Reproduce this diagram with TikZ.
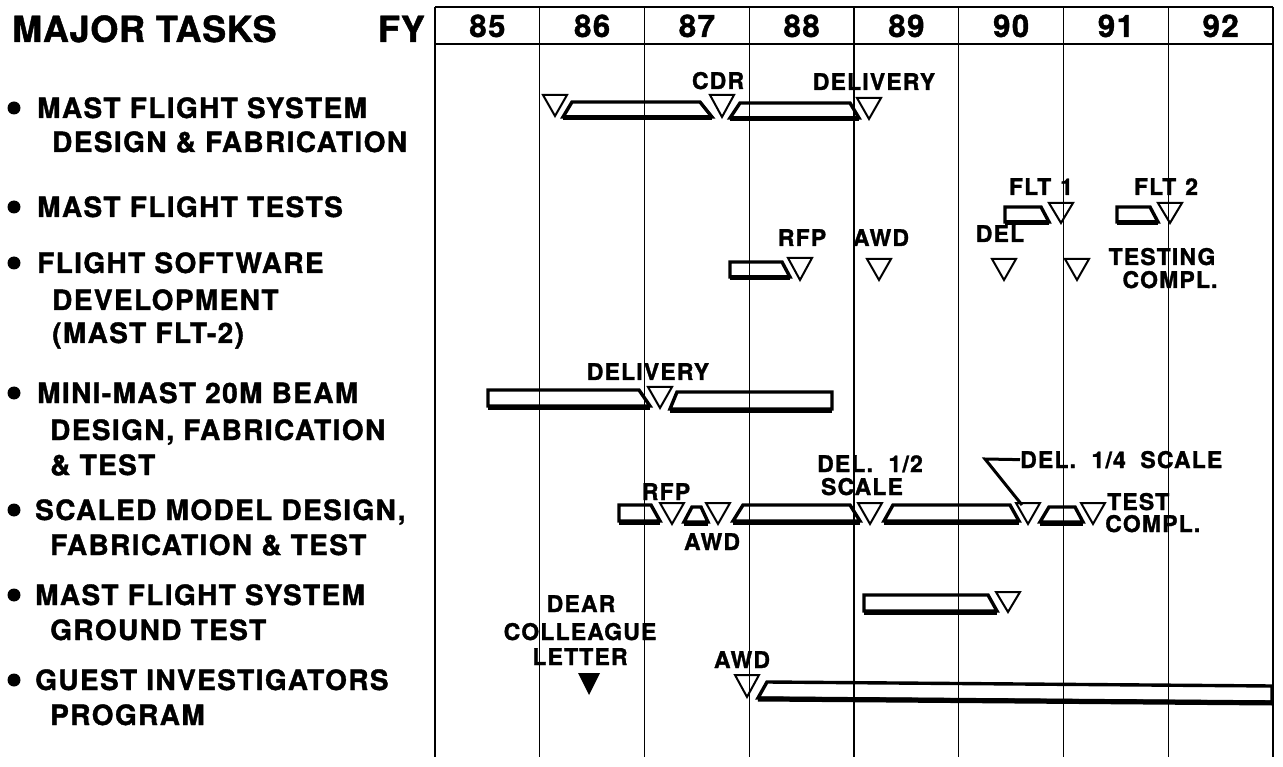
\documentclass[tikz,border=0pt]{standalone}
\usepackage{fontspec}
\setmainfont{TeX Gyre Heros}
\newfontfamily\labfont{TeX Gyre Heros}[LetterSpace=5, BoldFeatures={FakeBold=1.3}]
\newfontfamily\ttlfont{TeX Gyre Heros}[LetterSpace=2, BoldFeatures={FakeBold=1.3}]
\tikzset{
  task/.style={anchor=base west, inner sep=0pt, font=\labfont\bfseries\fontsize{28}{30}\selectfont},
  lbl/.style={anchor=base, inner sep=0pt, font=\labfont\bfseries\fontsize{23}{25}\selectfont},
  yr/.style={anchor=base, inner sep=0pt, font=\labfont\bfseries\fontsize{31}{33}\selectfont},
  ttl/.style={inner sep=0pt, font=\ttlfont\bfseries\fontsize{36}{38}\selectfont},
  gridline/.style={line width=1.2pt},
  frame/.style={line width=2.5pt},
  barstyle/.style={line width=3.4pt, line join=miter},
  barbottom/.style={line width=5pt},
  tristyle/.style={line width=2pt, line join=miter},
  leader/.style={line width=3pt},
}
\newcommand\gbar[6]{%
  \draw[barstyle] (#1,#5) -- (#2,#5) -- (#3,#6) -- (#4,#6) -- cycle;
  \draw[barbottom] (#4,#6+1) -- (#3,#6+1);}
\newcommand\mtri[4]{%
  \draw[tristyle] (#2-12,#3) -- (#2+12,#3) -- (#2,#4) -- cycle;
  \coordinate (#1) at (#2,#3);}
\newcommand\bul[1]{\fill (14,#1) circle (6.5pt);}
\begin{document}
\begin{tikzpicture}[x=1pt,y=-1pt]
\useasboundingbox (0,0) rectangle (1283,767);
% frame and grid
\foreach \i in {1,...,7} \draw[gridline] (435+104.75*\i,7) -- (435+104.75*\i,757);
\draw[frame] (435,7) -- (1273,7);
\draw[frame] (435,44) -- (1273,44);
\draw[frame] (435,7) -- (435,757);
\draw[frame] (1273,7) -- (1273,757);
\foreach \y [count=\i from 0] in {85,...,92} \node[yr] (y\y) at (487.4+104.75*\i,37) {\y};
% titles
\node[ttl, anchor=base west] (mt) at (12,42) {MAJOR TASKS};
\node[ttl, anchor=base east] (fy) at (425,42) {FY};
% task list
\bul{108} \node[task] (a1) at (37,118) {MAST FLIGHT SYSTEM};
\node[task] (a2) at (52,152) {DESIGN \& FABRICATION};
\bul{207} \node[task] (b1) at (37,217) {MAST FLIGHT TESTS};
\bul{263} \node[task] (c1) at (37,273) {FLIGHT SOFTWARE};
\node[task] (c2) at (52,310) {DEVELOPMENT};
\node[task] (c3) at (52,343) {(MAST FLT-2)};
\bul{393} \node[task] (d1) at (37,403) {MINI-MAST 20M BEAM};
\node[task] (d2) at (50,440) {DESIGN, FABRICATION};
\node[task] (d3) at (50,475) {\& TEST};
\bul{510} \node[task] (e1) at (35,520) {SCALED MODEL DESIGN,};
\node[task] (e2) at (50,555) {FABRICATION \& TEST};
\bul{595} \node[task] (f1) at (35,605) {MAST FLIGHT SYSTEM};
\node[task] (f2) at (50,640) {GROUND TEST};
\bul{680} \node[task] (g1) at (35,690) {GUEST INVESTIGATORS};
\node[task] (g2) at (50,725) {PROGRAM};
% row 1
\mtri{r1a}{555}{95}{116}
\gbar{572}{700}{712}{563}{102}{117}
\mtri{r1b}{722}{95}{117}
\gbar{740}{850}{859}{730}{103}{118}
\mtri{r1c}{869}{98}{119}
\node[lbl] (l1a) at (718,89) {CDR};
\node[lbl] (l1b) at (874,90) {DELIVERY};
% row 2
\gbar{1005}{1041}{1049}{1005}{207}{222}
\mtri{r2a}{1061}{203}{223}
\gbar{1117}{1150}{1158}{1117}{207}{222}
\mtri{r2b}{1170}{203}{223}
\node[lbl] (l2a) at (1041,195) {FLT\hspace{9pt}1};
\node[lbl] (l2b) at (1166,195) {FLT\hspace{9pt}2};
% row 3
\gbar{730}{782}{790}{730}{262}{277}
\mtri{r3a}{800}{258}{280}
\mtri{r3b}{879}{259}{280}
\mtri{r3c}{1004}{259}{280}
\mtri{r3d}{1077}{259}{280}
\node[lbl] (l3a) at (802,246) {RFP};
\node[lbl] (l3b) at (881,246) {AWD};
\node[lbl] (l3c) at (1000,242) {DEL};
\node[lbl] (l3d) at (1162,265) {TESTING};
\node[lbl] (l3e) at (1170,288) {COMPL.};
% row 4
\gbar{488}{639}{650}{488}{390}{406}
\mtri{r4a}{660}{387}{408}
\gbar{677}{832}{832}{670}{392}{409}
\node[lbl] (l4a) at (648,380) {DELIVERY};
% row 5
\gbar{619}{651}{660}{619}{505}{521}
\mtri{r5a}{672}{503}{524}
\gbar{692}{701}{708}{684}{507}{522}
\mtri{r5b}{718}{503}{524}
\gbar{743}{850}{860}{733}{505}{521}
\mtri{r5c}{870}{503}{524}
\gbar{893}{1010}{1019}{884}{505}{521}
\mtri{r5d}{1028}{503}{524}
\gbar{1049}{1075}{1083}{1040}{507}{522}
\mtri{r5e}{1093}{503}{524}
\node[lbl] (l5a) at (666,500) {RFP};
\node[lbl] (l5b) at (712,550) {AWD};
\node[lbl] (l5c) at (870,472) {DEL.\hspace{8pt} 1/2};
\node[lbl] (l5d) at (862,495) {SCALE};
\node[lbl, anchor=base west] (l5e) at (1020,468) {DEL.\hspace{8pt} 1/4\hspace{7pt} SCALE};
\node[lbl, anchor=base west] (l5f) at (1107,510) {TEST};
\node[lbl, anchor=base west] (l5g) at (1105,532) {COMPL.};
\coordinate (k5) at (985,459);
\coordinate (t5) at (1022,505);
\draw[leader] (l5e.west) -- (k5) -- (t5);
% row 6
\gbar{864}{988}{997}{864}{595}{611}
\mtri{r6a}{1008}{592}{612}
\node[lbl] (l6a) at (581,612) {DEAR};
\node[lbl] (l6b) at (580,640) {COLLEAGUE};
\node[lbl] (l6c) at (580,665) {LETTER};
\fill (578,673) -- (600,673) -- (589,695) -- cycle;
% row 7
\mtri{r7a}{747}{675}{697}
\node[lbl] (l7a) at (742,668) {AWD};
\draw[barstyle] (767,682) -- (1272,686) -- (1272,702) -- (758,698) -- cycle;
\draw[barbottom] (758,699) -- (1272,703);
\end{tikzpicture}
\end{document}
